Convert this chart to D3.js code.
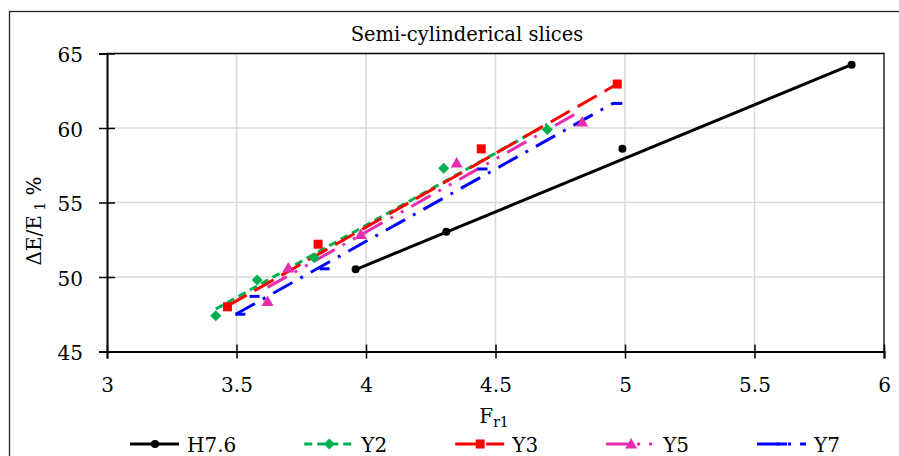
<!DOCTYPE html>
<html>
<head>
<meta charset="utf-8">
<script src="https://cdn.jsdelivr.net/npm/d3@7"></script>
<style>
  body { margin: 0; background: #fff; }
  svg { display: block; }
  text { font-family: "DejaVu Serif", "Liberation Serif", serif; fill: #000; }
</style>
</head>
<body>
<svg id="chart" width="899" height="456"></svg>
<script>
// Measured relative energy change versus Froude number, per slice type
const seriesNames = ["H7.6", "Y2", "Y3", "Y5", "Y7"];
const xH76 = [3.96, 4.31, 4.99, 5.875];
const yH76 = [50.52, 53.04, 58.6, 64.25];
const xY2 = [3.42, 3.58, 3.80, 4.30, 4.70];
const yY2 = [47.4, 49.8, 51.3, 57.3, 59.9];
const xY3 = [3.465, 3.815, 4.445, 4.97];
const yY3 = [48.0, 52.2, 58.6, 62.95];
const xY5 = [3.62, 3.70, 3.98, 4.35, 4.835];
const yY5 = [48.35, 50.6, 52.85, 57.65, 60.4];
const xY7 = [3.515, 3.57, 3.84, 4.45, 4.97];
const yY7 = [47.5, 48.7, 50.55, 57.25, 61.65];

// Linear trend lines: start and end of each fitted line
const trendX = {
  "H7.6": [3.96, 5.875],
  "Y2":   [3.42, 4.70],
  "Y3":   [3.465, 4.97],
  "Y5":   [3.62, 4.835],
  "Y7":   [3.497, 4.953]
};
const trendY = {
  "H7.6": [50.5, 64.25],
  "Y2":   [47.85, 60.25],
  "Y3":   [48.05, 62.95],
  "Y5":   [49.3, 61.2],
  "Y7":   [47.5, 61.65]
};

const xTicks = [3, 3.5, 4, 4.5, 5, 5.5, 6];
const yTicks = [45, 50, 55, 60, 65];

// Appearance of each series: colour, dash pattern of its trend line, marker shape
const styles = {
  "H7.6": { color: "#000000", dash: null,           marker: "circle" },
  "Y2":   { color: "#00B050", dash: "8,5",          marker: "diamond" },
  "Y3":   { color: "#FF0000", dash: "22,9",         marker: "square" },
  "Y5":   { color: "#E62DB0", dash: "22,9,3,9,3,9", marker: "triangle" },
  "Y7":   { color: "#0000FF", dash: "22,9,3,9",     marker: "dash" }
};

const seriesX = { "H7.6": xH76, "Y2": xY2, "Y3": xY3, "Y5": xY5, "Y7": xY7 };
const seriesY = { "H7.6": yH76, "Y2": yY2, "Y3": yY3, "Y5": yY5, "Y7": yY7 };
const series = seriesNames.map(name => ({
  name,
  points: seriesX[name].map((x, i) => ({ x, y: seriesY[name][i] })),
  fit: trendX[name].map((x, i) => ({ x, y: trendY[name][i] })),
  ...styles[name]
}));

const FONT = "20px";
const svg = d3.select("#chart");
const x = d3.scaleLinear().domain([3, 6]).range([107, 884]);
const y = d3.scaleLinear().domain([45, 65]).range([351.5, 53.5]);

// Outer chart frame
svg.append("rect")
  .attr("x", 9.5).attr("y", 11.5).attr("width", 900).attr("height", 460)
  .attr("fill", "none").attr("stroke", "#222").attr("stroke-width", 1.3);

// Title
svg.append("text")
  .attr("x", 467).attr("y", 41)
  .attr("text-anchor", "middle")
  .style("font-size", "19.5px")
  .text("Semi-cylinderical slices");

// Gridlines
const grid = svg.append("g");
grid.selectAll("line.gx").data(xTicks.filter(t => t > 3 && t < 6)).join("line")
  .attr("x1", d => x(d)).attr("x2", d => x(d))
  .attr("y1", y(65)).attr("y2", y(45))
  .attr("stroke", "#d9d9d9").attr("stroke-width", 1.5);
grid.selectAll("line.gy").data(yTicks.filter(t => t > 45 && t < 65)).join("line")
  .attr("x1", x(3)).attr("x2", x(6))
  .attr("y1", d => y(d)).attr("y2", d => y(d))
  .attr("stroke", "#d9d9d9").attr("stroke-width", 1.5);

// Plot area frame (top and right)
svg.append("path")
  .attr("d", `M${x(3)},${y(65)}H${x(6)}V${y(45)}`)
  .attr("fill", "none").attr("stroke", "#000").attr("stroke-width", 1.3);

// Axes with ticks that cross the axis line
const xAxis = svg.append("g")
  .attr("transform", `translate(0,${y(45)})`)
  .call(d3.axisBottom(x).tickValues(xTicks).tickSize(7).tickFormat(d3.format("")));
xAxis.select(".domain").attr("stroke", "#000").attr("stroke-width", 2);
xAxis.selectAll(".tick line").attr("y1", -7).attr("y2", 7).attr("stroke", "#000").attr("stroke-width", 1.5);
xAxis.selectAll(".tick text").attr("y", 40).attr("dy", null)
  .style("font-size", FONT).style("font-family", "DejaVu Serif").attr("fill", "#000");

const yAxis = svg.append("g")
  .attr("transform", `translate(${x(3)},0)`)
  .call(d3.axisLeft(y).tickValues(yTicks).tickSize(8).tickFormat(d3.format("")));
yAxis.select(".domain").attr("stroke", "#000").attr("stroke-width", 2);
yAxis.selectAll(".tick line").attr("x1", -8).attr("x2", 8).attr("stroke", "#000").attr("stroke-width", 1.5);
yAxis.selectAll(".tick text").attr("x", -24).attr("dy", 8)
  .style("font-size", FONT).style("font-family", "DejaVu Serif").attr("fill", "#000");

// Axis titles
const yTitle = svg.append("text")
  .attr("transform", "translate(41,221) rotate(-90)")
  .attr("text-anchor", "middle")
  .style("font-size", FONT);
yTitle.append("tspan").text("ΔE/E");
yTitle.append("tspan").attr("dy", 4).style("font-size", "14px").text(" 1");
yTitle.append("tspan").attr("dy", -4).text(" %");

const xTitle = svg.append("text")
  .attr("x", 494).attr("y", 423)
  .attr("text-anchor", "middle")
  .style("font-size", FONT);
xTitle.append("tspan").text("F");
xTitle.append("tspan").attr("dy", 4).style("font-size", "14px").text("r1");

// Marker drawing
function drawMarker(sel, shape, color) {
  if (shape === "circle") {
    sel.append("circle").attr("r", 4).attr("fill", color);
  } else if (shape === "diamond") {
    sel.append("path").attr("d", "M0,-5.5L5.5,0L0,5.5L-5.5,0Z").attr("fill", color);
  } else if (shape === "square") {
    sel.append("rect").attr("x", -4.5).attr("y", -4.5).attr("width", 9).attr("height", 9).attr("fill", color);
  } else if (shape === "triangle") {
    sel.append("path").attr("d", "M0,-6L6,4.5L-6,4.5Z").attr("fill", color);
  } else if (shape === "dash") {
    sel.append("rect").attr("x", -5).attr("y", -1.5).attr("width", 10).attr("height", 3).attr("fill", color);
  }
}

const line = d3.line().x(d => x(d.x)).y(d => y(d.y));
const lines = svg.append("g");
series.forEach(s => {
  lines.append("path")
    .attr("d", line(s.fit))
    .attr("fill", "none")
    .attr("stroke", s.color)
    .attr("stroke-width", 3)
    .attr("stroke-dasharray", s.dash);
});

const markers = svg.append("g");
series.forEach(s => {
  markers.selectAll(null).data(s.points).join("g")
    .attr("transform", d => `translate(${x(d.x)},${y(d.y)})`)
    .each(function () { drawMarker(d3.select(this), s.marker, s.color); });
});

// Legend
const legend = svg.append("g");
const legendY = 444;
let lx = 0;
const items = [];
series.forEach(s => {
  const g = legend.append("g");
  g.append("line").attr("x1", 0).attr("x2", 49).attr("y1", legendY).attr("y2", legendY)
    .attr("stroke", s.color).attr("stroke-width", 3).attr("stroke-dasharray", s.dash);
  const m = g.append("g").attr("transform", `translate(25,${legendY})`);
  drawMarker(m, s.marker, s.color);
  const t = g.append("text").attr("x", 57).attr("y", legendY + 8)
    .style("font-size", FONT).text(s.name);
  const w = 57 + t.node().getComputedTextLength();
  items.push({ g, x: lx, w });
  lx += w + 68;
});
const totalW = lx - 68;
const startX = 485 - totalW / 2;
items.forEach(it => it.g.attr("transform", `translate(${startX + it.x},0)`));
</script>
</body>
</html>
